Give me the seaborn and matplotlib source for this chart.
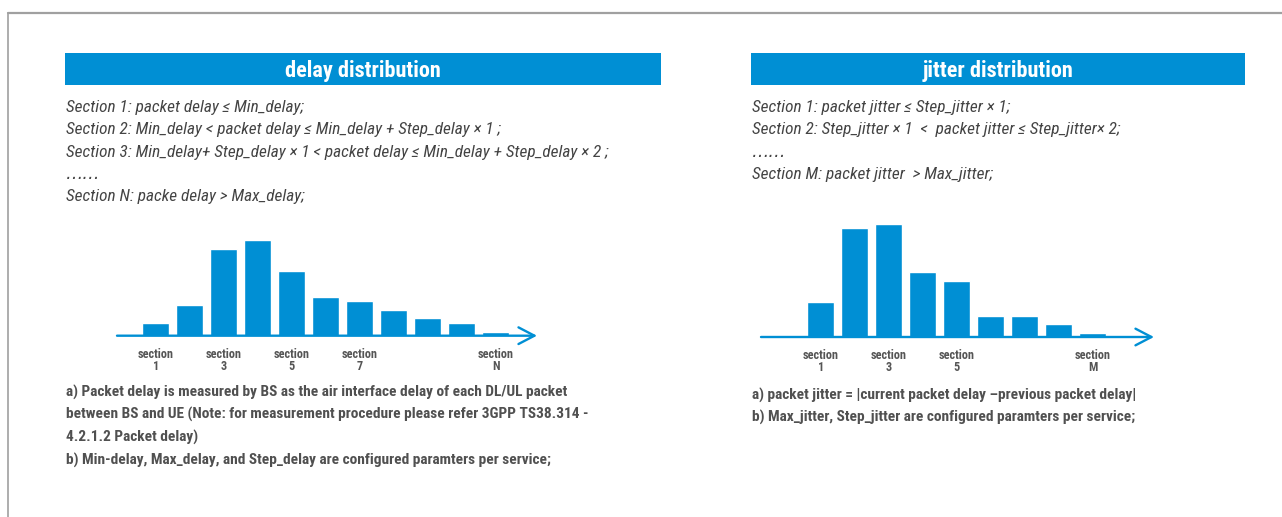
import numpy as np
import pandas as pd
import matplotlib
matplotlib.use("Agg")
import matplotlib.pyplot as plt
import seaborn as sns

# bar heights (arbitrary units)
delay_sections = ["1", "2", "3", "4", "5", "6", "7", "8", "9", "10", "N"]
delay_counts = [12.7, 30.7, 86.7, 95.7, 64.7, 38.7, 34.7, 25.7, 17.7, 12.7, 3.7]
delay_ticks = ["1", "3", "5", "7", "N"]

jitter_sections = ["1", "2", "3", "4", "5", "6", "7", "8", "M"]
jitter_counts = [35, 109, 113, 65, 56, 21, 21, 13, 4]
jitter_ticks = ["1", "3", "5", "M"]

delay_rules = [
    "Section 1: packet delay \u2264 Min_delay;",
    "Section 2: Min_delay < packet delay \u2264 Min_delay + Step_delay \u00d7 1 ;",
    "Section 3: Min_delay+ Step_delay \u00d7 1 < packet delay \u2264 Min_delay + Step_delay \u00d7 2 ;",
    "\u2026\u2026",
    "Section N: packe delay > Max_delay;",
]
jitter_rules = [
    "Section 1: packet jitter \u2264 Step_jitter \u00d7 1;",
    "Section 2: Step_jitter \u00d7 1  <  packet jitter \u2264 Step_jitter\u00d7 2;",
    "\u2026\u2026",
    "Section M: packet jitter  > Max_jitter;",
]
delay_notes = [
    "a) Packet delay is measured by BS as the air interface delay of each DL/UL packet",
    "between BS and UE (Note: for measurement procedure please refer 3GPP TS38.314 -",
    "4.2.1.2 Packet delay)",
    "b) Min-delay, Max_delay, and Step_delay are configured paramters per service;",
]
jitter_notes = [
    "a) packet jitter = |current packet delay \u2013previous packet delay|",
    "b) Max_jitter, Step_jitter are configured paramters per service;",
]

BLUE = "#008fd4"
W, H = 1282, 517

sns.set_style("white")
plt.rcParams["font.family"] = ["Roboto Condensed", "Roboto", "DejaVu Sans"]

fig = plt.figure(figsize=(W / 100, H / 100), dpi=100)


def px_rect(x0, y0, x1, y1):
    # pixel box (top-left origin) -> figure fraction
    return [x0 / W, 1 - y1 / H, (x1 - x0) / W, (y1 - y0) / H]


def ftext(x, y, s, **kw):
    fig.text(x / W, 1 - y / H, s, **kw)


# frame lines
fig.add_artist(plt.Line2D([8 / W, 1], [1 - 13 / H, 1 - 13 / H], color="#a0a0a0", lw=1.6))
fig.add_artist(plt.Line2D([8 / W, 8 / W], [0, 1 - 13 / H], color="#a0a0a0", lw=1.2))

# header bars
for (x0, x1, title) in [(65, 661, "delay distribution"), (751, 1245, "jitter distribution")]:
    fig.add_artist(plt.Rectangle((x0 / W, 1 - 85 / H), (x1 - x0) / W, 32 / H,
                                 transform=fig.transFigure, color=BLUE, lw=0))
    ftext((x0 + x1) / 2, 70.5, title, ha="center", va="center", color="white",
          fontsize=16, fontweight="bold")


def rule_lines(x, lines):
    for i, s in enumerate(lines):
        fam = ["DejaVu Sans"] if s.startswith("\u2026") else None
        ftext(x, 107 + 22.5 * i, s, ha="left", va="center", color="#444444",
              fontsize=12.4, style="italic", family=fam)


rule_lines(66, delay_rules)
rule_lines(752, jitter_rules)

for i, s in enumerate(delay_notes):
    ftext(66, 392 + 22.7 * i, s, ha="left", va="center", color="#505050",
          fontsize=11.1, fontweight="bold")
for i, s in enumerate(jitter_notes):
    ftext(752, 395 + 22.7 * i, s, ha="left", va="center", color="#505050",
          fontsize=11.1, fontweight="bold")


def histo(ax, sections, counts, ticks, x_lo, x_hi, top):
    df = pd.DataFrame({"section": sections, "count": counts})
    sns.barplot(data=df, x="section", y="count", color=BLUE, saturation=1,
                width=0.78, ax=ax, order=sections)
    ax.set_xlim(x_lo, x_hi)
    ax.set_ylim(0, top)
    ax.annotate("", xy=(x_hi, 0), xytext=(x_lo, 0), xycoords="data",
                arrowprops=dict(arrowstyle="->,head_length=1.15,head_width=0.6",
                                color=BLUE, lw=1.7, mutation_scale=10,
                                shrinkA=0, shrinkB=0))
    pos = [sections.index(t) for t in ticks]
    ax.set_xticks(pos)
    ax.set_xticklabels(["section\n" + t for t in ticks], fontsize=8.8,
                       fontweight="bold", color="#555555", linespacing=0.95)
    ax.tick_params(axis="x", length=0, pad=8.5)
    ax.set_yticks([])
    ax.set_xlabel("")
    ax.set_ylabel("")
    sns.despine(ax=ax, left=True, bottom=True)
    ax.patch.set_alpha(0)


# left: bar 1 center at px 155.7, pitch 34 px, baseline y 335.7
ax1 = fig.add_axes(px_rect(117, 225.7, 537, 335.7))
histo(ax1, delay_sections, delay_counts, delay_ticks,
      (117 - 155.7) / 34, (537 - 155.7) / 34, 110)

# right: bar 1 center at px 820.7, pitch 34 px, baseline y 337
ax2 = fig.add_axes(px_rect(761, 217, 1154, 337))
histo(ax2, jitter_sections, jitter_counts, jitter_ticks,
      (761 - 820.7) / 34, (1154 - 820.7) / 34, 120)

fig.savefig("out.png", dpi=100)
